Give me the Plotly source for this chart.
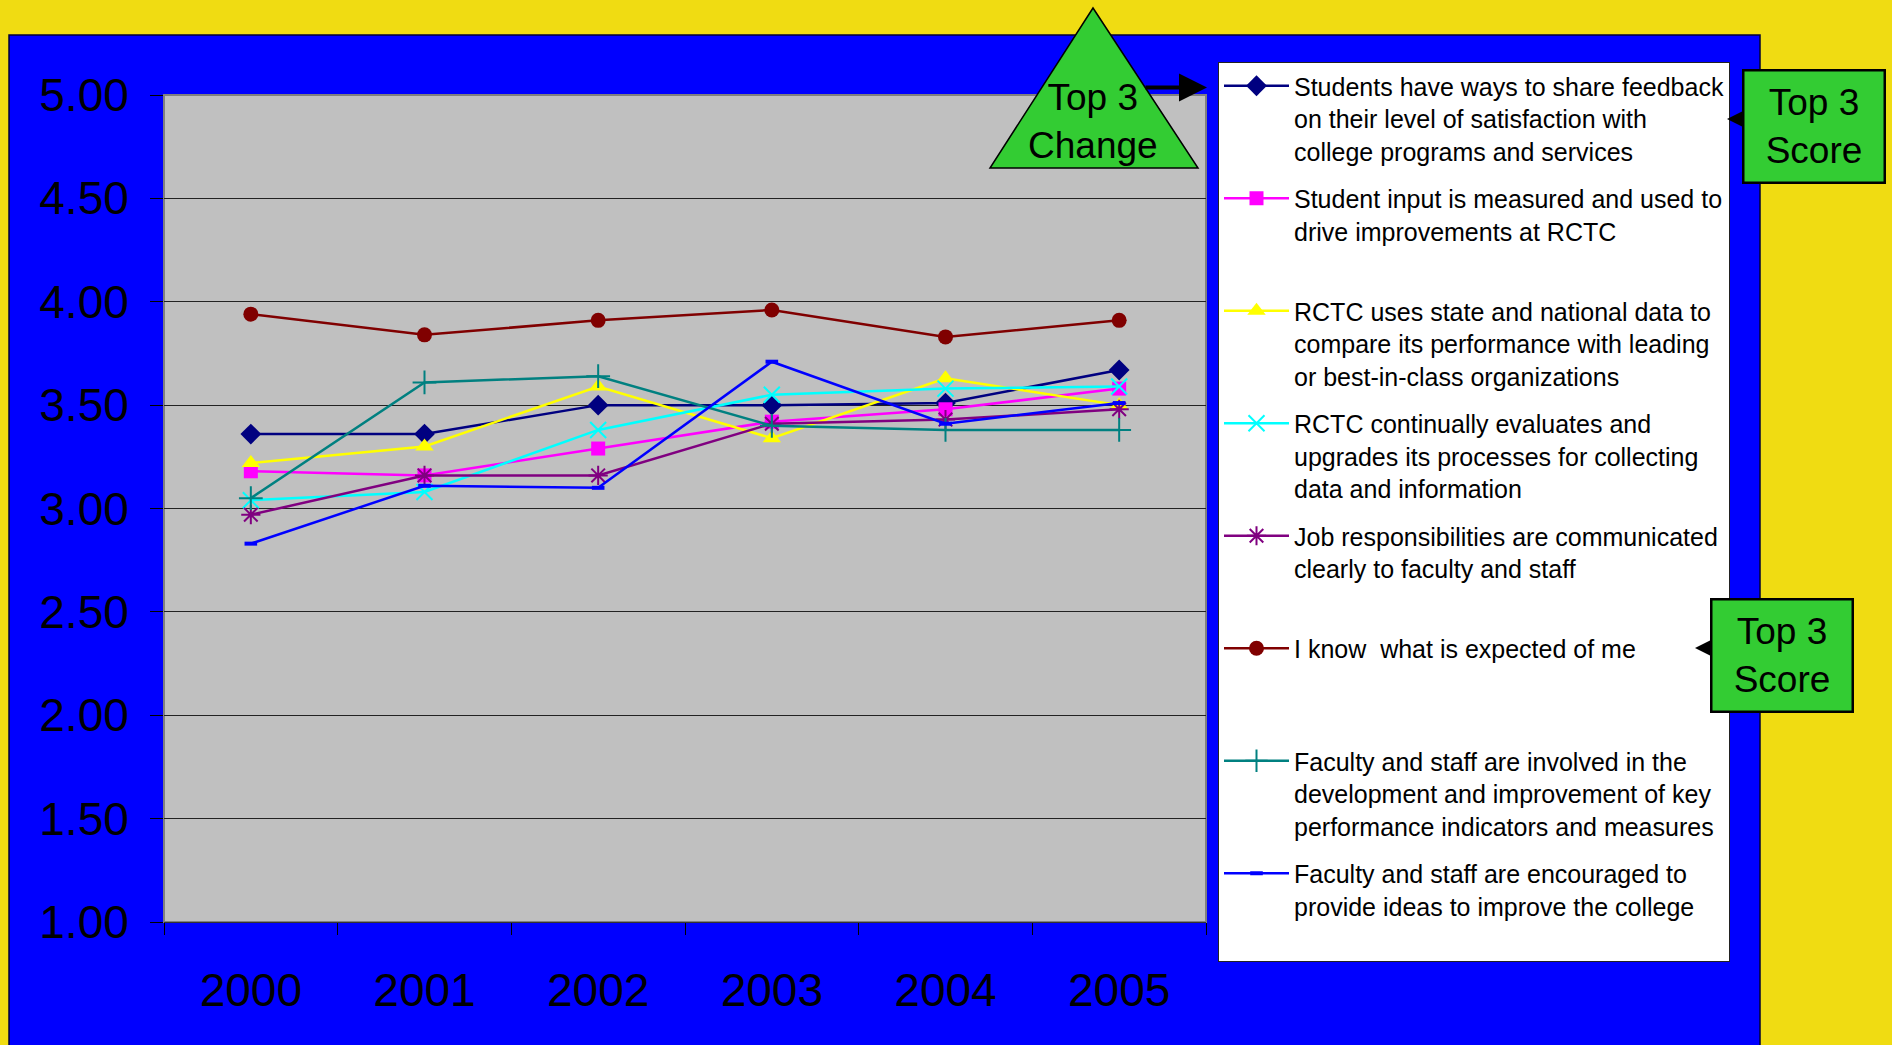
import plotly.graph_objects as go

# ---------------- data ----------------
years = ["2000", "2001", "2002", "2003", "2004", "2005"]

share_feedback = [3.36, 3.36, 3.50, 3.50, 3.51, 3.67]
student_input = [3.18, 3.16, 3.29, 3.42, 3.48, 3.58]
state_national = [3.22, 3.30, 3.59, 3.34, 3.63, 3.50]
evaluates_upgrades = [3.04, 3.08, 3.38, 3.55, 3.58, 3.59]
job_resp = [2.97, 3.16, 3.16, 3.41, 3.43, 3.48]
know_expected = [3.94, 3.84, 3.91, 3.96, 3.83, 3.91]
kpi_involved = [3.05, 3.61, 3.64, 3.40, 3.38, 3.38]
ideas_encouraged = [2.83, 3.11, 3.10, 3.71, 3.41, 3.51]

series_names = [
    "Students have ways to share feedback<br>on their level of satisfaction with<br>college programs and services",
    "Student input is measured and used to<br>drive improvements at RCTC",
    "RCTC uses state and national data to<br>compare its performance with leading<br>or best-in-class organizations",
    "RCTC continually evaluates and<br>upgrades its processes for collecting<br>data and information",
    "Job responsibilities are communicated<br>clearly to faculty and staff",
    "I know  what is expected of me",
    "Faculty and staff are involved in the<br>development and improvement of key<br>performance indicators and measures",
    "Faculty and staff are encouraged to<br>provide ideas to improve the college",
]
series_values = [share_feedback, student_input, state_national, evaluates_upgrades,
                 job_resp, know_expected, kpi_involved, ideas_encouraged]

y_ticks = [1.0, 1.5, 2.0, 2.5, 3.0, 3.5, 4.0, 4.5, 5.0]
callout_change = "Top 3<br>Change"
callout_score = "Top 3<br>Score"

# ---------------- styles ----------------
colors = ["#000080", "#FF00FF", "#FFFF00", "#00FFFF", "#800080", "#800000", "#008080", "#0000FF"]
symbols = ["diamond", "square", "triangle-up", "x-thin-open", "asterisk-open",
           "circle", "cross-thin-open", "line-ew-open"]
msizes = [16, 14, 16, 16, 16, 15, 17, 9]
mlinew = [0, 0, 0, 2, 2, 0, 2, 4]

FONT = "Liberation Sans, Arial, sans-serif"
GREEN = "#33CC33"
FIG_W, FIG_H = 1892, 1045
L, R, T, B = 164, 1206, 95, 922
PW, PH = R - L, B - T


def X(px):
    return (px - L) / PW


def Y(py):
    return (B - py) / PH


def pad_lines(name, n=3):
    k = name.count("<br>") + 1
    return name + "<br>\u00a0" * max(0, n - k)


fig = go.Figure()
for i, (nm, vals) in enumerate(zip(series_names, series_values)):
    fig.add_trace(go.Scatter(
        x=years, y=vals, name=pad_lines(nm), mode="lines+markers",
        legendgroup=f"g{i}",
        line=dict(color=colors[i], width=2.5),
        marker=dict(symbol=symbols[i], size=msizes[i], color=colors[i],
                    line=dict(color=colors[i], width=mlinew[i])),
    ))

shapes = [
    # blue panel
    dict(type="rect", xref="paper", yref="paper", x0=X(9), x1=X(1760), y0=Y(1070), y1=Y(35),
         fillcolor="#0000FF", line=dict(color="#000033", width=1.5), layer="below"),
    # gray plot area
    dict(type="rect", xref="paper", yref="paper", x0=0, x1=1, y0=0, y1=1,
         fillcolor="#C0C0C0", line=dict(color="#808080", width=2), layer="below"),
    # triangle callout
    dict(type="path", xref="paper", yref="paper",
         path=f"M {X(1093)},{Y(8)} L {X(990)},{Y(168)} L {X(1198)},{Y(168)} Z",
         fillcolor=GREEN, line=dict(color="black", width=1.5), layer="above"),
]


def score_box(cx, cy, tip_x, tip_y):
    # callout pointer (arrow head only) + green box drawn above the legend
    return [
        dict(xref="paper", yref="paper", x=X(tip_x), y=Y(tip_y), text="", showarrow=True,
             ax=16, ay=0, arrowhead=2, arrowsize=7, arrowwidth=1, arrowcolor="black", standoff=0),
        dict(xref="paper", yref="paper", x=X(cx), y=Y(cy), text=callout_score, showarrow=False,
             font=dict(family=FONT, size=37, color="black"), xanchor="center", yanchor="middle",
             bgcolor=GREEN, bordercolor="black", borderwidth=2.5, borderpad=0,
             width=139, height=110, align="center", valign="middle"),
    ]


annotations = [
    dict(xref="paper", yref="paper", x=X(1093), y=Y(121), text=callout_change, showarrow=False,
         font=dict(family=FONT, size=37, color="black"), xanchor="center", yanchor="middle"),
    dict(xref="paper", yref="paper", x=X(1207), y=Y(87.5), text="", showarrow=True,
         ax=-63, ay=0, arrowhead=2, arrowsize=1.4, arrowwidth=4, arrowcolor="black", standoff=0),
] + score_box(1814, 126.5, 1727, 119) + score_box(1782, 655.5, 1695, 648)

fig.update_layout(
    width=FIG_W, height=FIG_H,
    margin=dict(l=L, r=FIG_W - R, t=T, b=FIG_H - B, pad=0),
    paper_bgcolor="#F0DC12",
    plot_bgcolor="rgba(0,0,0,0)",
    font=dict(family=FONT, color="black"),
    shapes=shapes,
    annotations=annotations,
    showlegend=True,
    legend=dict(
        x=X(1218), y=Y(62), xanchor="left", yanchor="top",
        bgcolor="white", bordercolor="#222222", borderwidth=1,
        font=dict(family=FONT, size=25, color="black"),
        itemwidth=65, valign="top", tracegroupgap=12, traceorder="grouped",
    ),
    xaxis=dict(
        type="category", range=[-0.5, 5.5], tickson="boundaries", ticks="outside", ticklen=12,
        tickcolor="black", tickwidth=1, showgrid=False, showline=True,
        linecolor="#333333", linewidth=1, zeroline=False,
        tickfont=dict(family=FONT, size=46, color="black"),
        ticklabelstandoff=28, fixedrange=True,
    ),
    yaxis=dict(
        range=[1, 5], tickvals=y_ticks, tickformat=".2f", ticks="outside", ticklen=13,
        tickcolor="black", tickwidth=1, showgrid=True, gridcolor="#222222", gridwidth=1,
        zeroline=False, showline=False,
        tickfont=dict(family=FONT, size=46, color="black"),
        ticklabelstandoff=12, fixedrange=True,
    ),
)

try:
    fig.update_layout(legend_maxheight=1040)
except Exception:
    pass
try:
    fig.update_layout(legend_entrywidth=440, legend_entrywidthmode="pixels")
except Exception:
    pass

fig.write_html("out.html")
